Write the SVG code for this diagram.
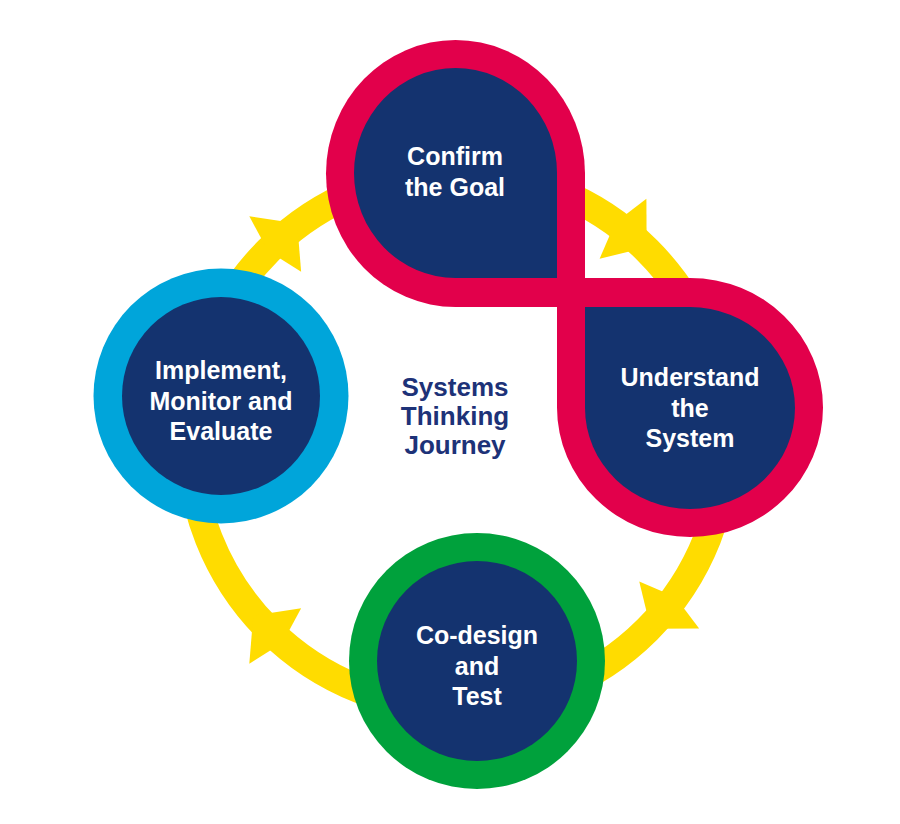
<svg xmlns="http://www.w3.org/2000/svg" width="900" height="824" viewBox="0 0 900 824">
<defs>
<style>
.ring{fill:none;stroke:#FFDC00;stroke-width:28}
.arrow{fill:#FFDC00}
.red{fill:#E2004B}
.navy{fill:#14336F}
.blue{fill:#00A5DA}
.green{fill:#00A13C}
.lbl{font-family:"Liberation Sans",Arial,sans-serif;font-weight:bold;font-size:25px;fill:#FFFFFF;text-anchor:middle}
.title{font-family:"Liberation Sans",Arial,sans-serif;font-weight:bold;font-size:26px;fill:#1D3278;text-anchor:middle}
</style>
<path id="ah" d="M30,0 L0,-38 L-10,0 L0,38 Z"/>
</defs>
<rect width="900" height="824" fill="#FFFFFF"/>
<g id="connectors">
<circle class="ring" cx="458" cy="440" r="268"/>
<use href="#ah" class="arrow" transform="translate(458 440) rotate(227) translate(268 0) rotate(90)"/>
<use href="#ah" class="arrow" transform="translate(458 440) rotate(-52) translate(268 0) rotate(90)"/>
<use href="#ah" class="arrow" transform="translate(458 440) rotate(38) translate(268 0) rotate(90)"/>
<use href="#ah" class="arrow" transform="translate(458 440) rotate(133) translate(268 0) rotate(90)"/>
</g>
<g id="confirm-goal">
<path class="red" d="M585,307 L455.5,307 A129.5 133.5 0 0 1 326 173.5 A129.5 133.5 0 0 1 455.5 40 A129.5 133.5 0 0 1 585 173.5 Z"/>
<path class="navy" d="M557,278 L455.5,278 A101.5 105 0 0 1 354 173 A101.5 105 0 0 1 455.5 68 A101.5 105 0 0 1 557 173 Z"/>
<text class="lbl" x="455" y="165">Confirm</text>
<text class="lbl" x="455" y="195.5">the Goal</text>
</g>
<g id="understand-system">
<path class="red" d="M557,278 L690,278 A133 129.5 0 0 1 823 407.5 A133 129.5 0 0 1 690 537 A133 129.5 0 0 1 557 407.5 Z"/>
<path class="navy" d="M585,307 L690,307 A105 101 0 0 1 795 408 A105 101 0 0 1 690 509 A105 101 0 0 1 585 408 Z"/>
<text class="lbl" x="690" y="386">Understand</text>
<text class="lbl" x="690" y="416.5">the</text>
<text class="lbl" x="690" y="447">System</text>
</g>
<g id="co-design">
<circle class="green" cx="477" cy="661" r="128"/>
<circle class="navy" cx="477" cy="661" r="100"/>
<text class="lbl" x="477" y="643.5">Co-design</text>
<text class="lbl" x="477" y="674.5">and</text>
<text class="lbl" x="477" y="705">Test</text>
</g>
<g id="implement">
<circle class="blue" cx="221" cy="396" r="127.5"/>
<circle class="navy" cx="221" cy="396" r="99"/>
<text class="lbl" x="221" y="379">Implement,</text>
<text class="lbl" x="221" y="409.5">Monitor and</text>
<text class="lbl" x="221" y="440">Evaluate</text>
</g>
<g id="journey-label">
<text class="title" x="455" y="396">Systems</text>
<text class="title" x="455" y="425">Thinking</text>
<text class="title" x="455" y="453.5">Journey</text>
</g>
</svg>
